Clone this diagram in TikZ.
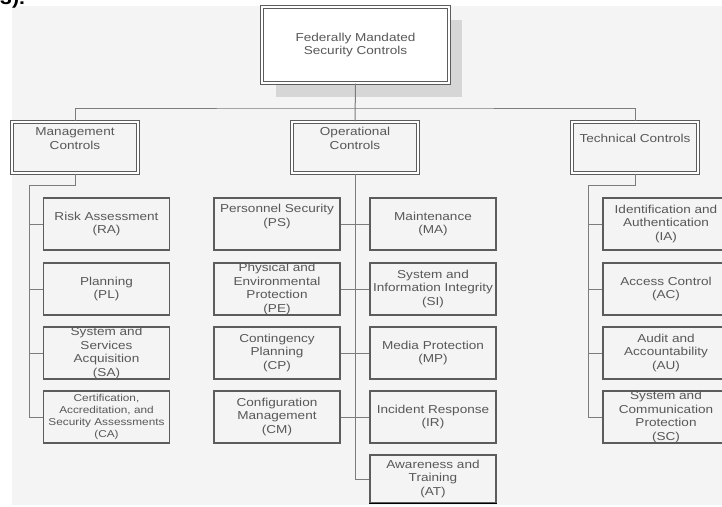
\documentclass[tikz,border=0pt]{standalone}
\usepackage{fontspec}
\setmainfont{Liberation Sans}[FakeStretch=1.18]
\usetikzlibrary{positioning}
\definecolor{pagegray}{HTML}{F4F4F4}
\definecolor{boxgray}{HTML}{5C5C5C}
\definecolor{linegray}{HTML}{7C7C7C}
\definecolor{txtgray}{HTML}{585858}
\definecolor{shadowgray}{HTML}{D6D6D6}
\tikzset{
  leaf/.style={draw=boxgray, line width=1.3pt, minimum width=126pt,
    minimum height=52pt, inner sep=0pt, align=center, text=txtgray,
    font=\fontsize{11.5}{13.7}\selectfont},
  smallleaf/.style={leaf, font=\fontsize{10}{12}\selectfont},
  headbox/.style={leaf, draw=boxgray, line width=1.1pt, double=white,
    double distance=1.6pt, minimum height=51pt},
  conn/.style={draw=linegray, line width=1pt},
}
\begin{document}
\begin{tikzpicture}[x=1pt, y=-1pt]
  \useasboundingbox (0,0) rectangle (722,506);
  \clip (0,0) rectangle (722,506);
  % page and caption fragment
  \fill[white] (0,0) rectangle (722,506);
  \fill[pagegray] (12,6) rectangle (722,505);
  \node[anchor=base west, inner sep=0pt, font=\fontsize{18}{18}\bfseries\selectfont] (caption) at (0,5) {3).};

  % root with its drop shadow
  \fill[shadowgray] (276,20) rectangle (462,97);
  \node[headbox, fill=white, minimum width=187pt, minimum height=76pt] (root) at (355.5,45)
    {Federally Mandated\\Security Controls};

  % control families
  \node[headbox] (mgmt) at (75,147.5) {Management\\Controls\\\strut};
  \node[headbox] (ops) at (355,147.5) {Operational\\Controls\\\strut};
  \node[headbox] (tech) at (635,147.5) {Technical Controls\\\strut};

  % management controls
  \node[leaf] (ra) at (106.5,224) {Risk Assessment\\(RA)};
  \node[leaf] (pl) at (106.5,289) {Planning\\(PL)};
  \node[leaf] (sa) at (106.5,353) {System and\\Services\\Acquisition\\(SA)};
  \node[smallleaf] (ca) at (106.5,417) {Certification,\\Accreditation, and\\Security Assessments\\(CA)};

  % operational controls, left column
  \node[leaf] (ps) at (277,224) {Personnel Security\\(PS)\\\strut};
  \node[leaf] (pe) at (277,289) {Physical and\\Environmental\\Protection\\(PE)};
  \node[leaf] (cp) at (277,353) {Contingency\\Planning\\(CP)};
  \node[leaf] (cm) at (277,417) {Configuration\\Management\\(CM)};

  % operational controls, right column
  \node[leaf] (ma) at (433,224) {Maintenance\\(MA)};
  \node[leaf] (si) at (433,289) {System and\\Information Integrity\\(SI)};
  \node[leaf] (mp) at (433,353) {Media Protection\\(MP)};
  \node[leaf] (ir) at (433,417) {Incident Response\\(IR)};
  \node[leaf, minimum height=48pt] (at) at (433,479) {Awareness and\\Training\\(AT)};
  \draw[black, line width=1.3pt] (at.south west) -- (at.south east);

  % technical controls
  \node[leaf] (ia) at (666,224) {Identification and\\Authentication\\(IA)};
  \node[leaf] (ac) at (666,289) {Access Control\\(AC)};
  \node[leaf] (au) at (666,353) {Audit and\\Accountability\\(AU)};
  \node[leaf] (sc) at (666,417) {System and\\Communication\\Protection\\(SC)};

  % top-level tree
  \coordinate (hbus) at (355,108);
  \draw[conn] (root.south) -- (ops.north);
  \draw[conn] (mgmt.north) |- (hbus) -| (tech.north);

  % management branch
  \coordinate (mbus) at (29,185);
  \draw[conn] (mgmt.south) |- (mbus) -- (mbus |- ca.west);
  \foreach \n in {ra,pl,sa,ca} \draw[conn] (mbus |- \n.west) -- (\n.west);

  % operational branch
  \draw[conn] (ops.south) -- (ops.south |- at.west) -- (at.west);
  \draw[conn] (ps.east) -- (ma.west);
  \draw[conn] (pe.east) -- (si.west);
  \draw[conn] (cp.east) -- (mp.west);
  \draw[conn] (cm.east) -- (ir.west);

  % technical branch
  \coordinate (tbus) at (588,185);
  \draw[conn] (tech.south) |- (tbus) -- (tbus |- sc.west);
  \foreach \n in {ia,ac,au,sc} \draw[conn] (tbus |- \n.west) -- (\n.west);
\end{tikzpicture}
\end{document}
